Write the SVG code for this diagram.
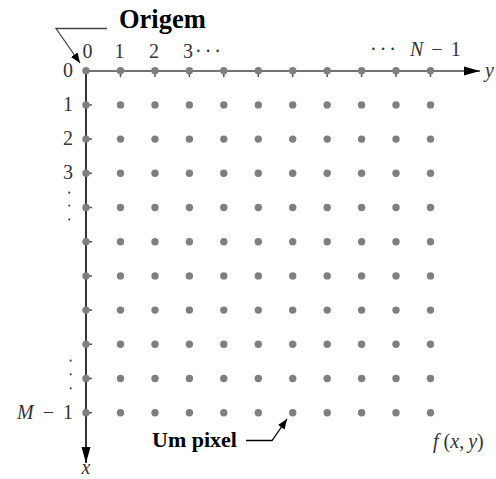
<svg xmlns="http://www.w3.org/2000/svg" width="496" height="479" viewBox="0 0 496 479">
<defs>
<style>
.lbl{font-family:"Liberation Serif",serif;font-size:20px;fill:#333}
.it{font-style:italic}
.bold{font-family:"Liberation Serif",serif;font-weight:bold;fill:#000}
.dot{fill:#7f7f7f}
.tick{stroke:#555;stroke-width:1.5}
.ell{fill:#444}
</style>
<marker id="ah" viewBox="0 0 10 10" refX="10" refY="5" markerWidth="10" markerHeight="10" markerUnits="userSpaceOnUse" orient="auto"><path d="M0,1 L10,5 L0,9 Z" fill="#000"/></marker>
<marker id="big" viewBox="0 0 16 10" refX="16" refY="5" markerWidth="16" markerHeight="10" markerUnits="userSpaceOnUse" orient="auto"><path d="M0,0.5 L16,5 L0,9.5 Z" fill="#000"/></marker>
</defs>
<rect width="496" height="479" fill="#fff"/>
<g id="connectors" fill="none">
<line x1="86" y1="71" x2="480" y2="71" stroke="#444" stroke-width="1.6" marker-end="url(#big)"/>
<line x1="86" y1="71" x2="86" y2="463" stroke="#000" stroke-width="1.6" marker-end="url(#big)"/>
<polyline points="107,28.5 56,28.5 80,63" stroke="#444" stroke-width="1.3" marker-end="url(#ah)"/>
<polyline points="246,440.5 272,440.5 287,419" stroke="#000" stroke-width="1.3" marker-end="url(#ah)"/>
</g>
<g id="ticks">
<path class="tick" d="M120.5,71v6M155,71v6M189.4,71v6M223.8,71v6M258.3,71v6M292.7,71v6M327.2,71v6M361.6,71v6M396,71v6M430.5,71v6"/>
<path class="tick" d="M86,104.9h6M86,139.1h6M86,173.3h6M86,207.5h6M86,241.7h6M86,275.9h6M86,310.1h6M86,344.3h6M86,378.5h6M86,412.7h6"/>
</g>
<g id="grid">
<g id="row0"><circle class="dot" cx="86" cy="70.7" r="3.7"/><circle class="dot" cx="120.5" cy="70.7" r="3.7"/><circle class="dot" cx="155" cy="70.7" r="3.7"/><circle class="dot" cx="189.4" cy="70.7" r="3.7"/><circle class="dot" cx="223.8" cy="70.7" r="3.7"/><circle class="dot" cx="258.3" cy="70.7" r="3.7"/><circle class="dot" cx="292.7" cy="70.7" r="3.7"/><circle class="dot" cx="327.2" cy="70.7" r="3.7"/><circle class="dot" cx="361.6" cy="70.7" r="3.7"/><circle class="dot" cx="396" cy="70.7" r="3.7"/><circle class="dot" cx="430.5" cy="70.7" r="3.7"/></g>
<g id="row1"><circle class="dot" cx="86" cy="104.9" r="3.7"/><circle class="dot" cx="120.5" cy="104.9" r="3.7"/><circle class="dot" cx="155" cy="104.9" r="3.7"/><circle class="dot" cx="189.4" cy="104.9" r="3.7"/><circle class="dot" cx="223.8" cy="104.9" r="3.7"/><circle class="dot" cx="258.3" cy="104.9" r="3.7"/><circle class="dot" cx="292.7" cy="104.9" r="3.7"/><circle class="dot" cx="327.2" cy="104.9" r="3.7"/><circle class="dot" cx="361.6" cy="104.9" r="3.7"/><circle class="dot" cx="396" cy="104.9" r="3.7"/><circle class="dot" cx="430.5" cy="104.9" r="3.7"/></g>
<g id="row2"><circle class="dot" cx="86" cy="139.1" r="3.7"/><circle class="dot" cx="120.5" cy="139.1" r="3.7"/><circle class="dot" cx="155" cy="139.1" r="3.7"/><circle class="dot" cx="189.4" cy="139.1" r="3.7"/><circle class="dot" cx="223.8" cy="139.1" r="3.7"/><circle class="dot" cx="258.3" cy="139.1" r="3.7"/><circle class="dot" cx="292.7" cy="139.1" r="3.7"/><circle class="dot" cx="327.2" cy="139.1" r="3.7"/><circle class="dot" cx="361.6" cy="139.1" r="3.7"/><circle class="dot" cx="396" cy="139.1" r="3.7"/><circle class="dot" cx="430.5" cy="139.1" r="3.7"/></g>
<g id="row3"><circle class="dot" cx="86" cy="173.3" r="3.7"/><circle class="dot" cx="120.5" cy="173.3" r="3.7"/><circle class="dot" cx="155" cy="173.3" r="3.7"/><circle class="dot" cx="189.4" cy="173.3" r="3.7"/><circle class="dot" cx="223.8" cy="173.3" r="3.7"/><circle class="dot" cx="258.3" cy="173.3" r="3.7"/><circle class="dot" cx="292.7" cy="173.3" r="3.7"/><circle class="dot" cx="327.2" cy="173.3" r="3.7"/><circle class="dot" cx="361.6" cy="173.3" r="3.7"/><circle class="dot" cx="396" cy="173.3" r="3.7"/><circle class="dot" cx="430.5" cy="173.3" r="3.7"/></g>
<g id="row4"><circle class="dot" cx="86" cy="207.5" r="3.7"/><circle class="dot" cx="120.5" cy="207.5" r="3.7"/><circle class="dot" cx="155" cy="207.5" r="3.7"/><circle class="dot" cx="189.4" cy="207.5" r="3.7"/><circle class="dot" cx="223.8" cy="207.5" r="3.7"/><circle class="dot" cx="258.3" cy="207.5" r="3.7"/><circle class="dot" cx="292.7" cy="207.5" r="3.7"/><circle class="dot" cx="327.2" cy="207.5" r="3.7"/><circle class="dot" cx="361.6" cy="207.5" r="3.7"/><circle class="dot" cx="396" cy="207.5" r="3.7"/><circle class="dot" cx="430.5" cy="207.5" r="3.7"/></g>
<g id="row5"><circle class="dot" cx="86" cy="241.7" r="3.7"/><circle class="dot" cx="120.5" cy="241.7" r="3.7"/><circle class="dot" cx="155" cy="241.7" r="3.7"/><circle class="dot" cx="189.4" cy="241.7" r="3.7"/><circle class="dot" cx="223.8" cy="241.7" r="3.7"/><circle class="dot" cx="258.3" cy="241.7" r="3.7"/><circle class="dot" cx="292.7" cy="241.7" r="3.7"/><circle class="dot" cx="327.2" cy="241.7" r="3.7"/><circle class="dot" cx="361.6" cy="241.7" r="3.7"/><circle class="dot" cx="396" cy="241.7" r="3.7"/><circle class="dot" cx="430.5" cy="241.7" r="3.7"/></g>
<g id="row6"><circle class="dot" cx="86" cy="275.9" r="3.7"/><circle class="dot" cx="120.5" cy="275.9" r="3.7"/><circle class="dot" cx="155" cy="275.9" r="3.7"/><circle class="dot" cx="189.4" cy="275.9" r="3.7"/><circle class="dot" cx="223.8" cy="275.9" r="3.7"/><circle class="dot" cx="258.3" cy="275.9" r="3.7"/><circle class="dot" cx="292.7" cy="275.9" r="3.7"/><circle class="dot" cx="327.2" cy="275.9" r="3.7"/><circle class="dot" cx="361.6" cy="275.9" r="3.7"/><circle class="dot" cx="396" cy="275.9" r="3.7"/><circle class="dot" cx="430.5" cy="275.9" r="3.7"/></g>
<g id="row7"><circle class="dot" cx="86" cy="310.1" r="3.7"/><circle class="dot" cx="120.5" cy="310.1" r="3.7"/><circle class="dot" cx="155" cy="310.1" r="3.7"/><circle class="dot" cx="189.4" cy="310.1" r="3.7"/><circle class="dot" cx="223.8" cy="310.1" r="3.7"/><circle class="dot" cx="258.3" cy="310.1" r="3.7"/><circle class="dot" cx="292.7" cy="310.1" r="3.7"/><circle class="dot" cx="327.2" cy="310.1" r="3.7"/><circle class="dot" cx="361.6" cy="310.1" r="3.7"/><circle class="dot" cx="396" cy="310.1" r="3.7"/><circle class="dot" cx="430.5" cy="310.1" r="3.7"/></g>
<g id="row8"><circle class="dot" cx="86" cy="344.3" r="3.7"/><circle class="dot" cx="120.5" cy="344.3" r="3.7"/><circle class="dot" cx="155" cy="344.3" r="3.7"/><circle class="dot" cx="189.4" cy="344.3" r="3.7"/><circle class="dot" cx="223.8" cy="344.3" r="3.7"/><circle class="dot" cx="258.3" cy="344.3" r="3.7"/><circle class="dot" cx="292.7" cy="344.3" r="3.7"/><circle class="dot" cx="327.2" cy="344.3" r="3.7"/><circle class="dot" cx="361.6" cy="344.3" r="3.7"/><circle class="dot" cx="396" cy="344.3" r="3.7"/><circle class="dot" cx="430.5" cy="344.3" r="3.7"/></g>
<g id="row9"><circle class="dot" cx="86" cy="378.5" r="3.7"/><circle class="dot" cx="120.5" cy="378.5" r="3.7"/><circle class="dot" cx="155" cy="378.5" r="3.7"/><circle class="dot" cx="189.4" cy="378.5" r="3.7"/><circle class="dot" cx="223.8" cy="378.5" r="3.7"/><circle class="dot" cx="258.3" cy="378.5" r="3.7"/><circle class="dot" cx="292.7" cy="378.5" r="3.7"/><circle class="dot" cx="327.2" cy="378.5" r="3.7"/><circle class="dot" cx="361.6" cy="378.5" r="3.7"/><circle class="dot" cx="396" cy="378.5" r="3.7"/><circle class="dot" cx="430.5" cy="378.5" r="3.7"/></g>
<g id="row10"><circle class="dot" cx="86" cy="412.7" r="3.7"/><circle class="dot" cx="120.5" cy="412.7" r="3.7"/><circle class="dot" cx="155" cy="412.7" r="3.7"/><circle class="dot" cx="189.4" cy="412.7" r="3.7"/><circle class="dot" cx="223.8" cy="412.7" r="3.7"/><circle class="dot" cx="258.3" cy="412.7" r="3.7"/><circle class="dot" cx="292.7" cy="412.7" r="3.7"/><circle class="dot" cx="327.2" cy="412.7" r="3.7"/><circle class="dot" cx="361.6" cy="412.7" r="3.7"/><circle class="dot" cx="396" cy="412.7" r="3.7"/><circle class="dot" cx="430.5" cy="412.7" r="3.7"/></g>
</g>
<g id="col-labels">
<text class="lbl" x="87.5" y="58" text-anchor="middle">0</text>
<text class="lbl" x="119.5" y="58" text-anchor="middle">1</text>
<text class="lbl" x="154" y="58" text-anchor="middle">2</text>
<text class="lbl" x="183" y="58">3</text>
<text class="lbl" x="195" y="58" letter-spacing="3">···</text>
<text class="lbl" x="370" y="56" letter-spacing="3">···</text>
<text class="lbl" x="410" y="56"><tspan class="it">N</tspan><tspan dx="8">−</tspan><tspan dx="8">1</tspan></text>
<text class="lbl it" x="485" y="77">y</text>
</g>
<g id="row-labels">
<text class="lbl" x="73" y="77" text-anchor="end">0</text>
<text class="lbl" x="73" y="111" text-anchor="end">1</text>
<text class="lbl" x="73" y="145" text-anchor="end">2</text>
<text class="lbl" x="73" y="179" text-anchor="end">3</text>
<circle class="ell" cx="69.3" cy="192.7" r="1.1"/><circle class="ell" cx="69.3" cy="205.5" r="1.1"/><circle class="ell" cx="69.3" cy="219.5" r="1.1"/>
<circle class="ell" cx="70.7" cy="360.7" r="1.1"/><circle class="ell" cx="70.7" cy="374.3" r="1.1"/><circle class="ell" cx="70.7" cy="388.3" r="1.1"/>
<text class="lbl" x="73" y="419" text-anchor="end" font-size="21"><tspan class="it">M</tspan><tspan dx="9">−</tspan><tspan dx="9">1</tspan></text>
<text class="lbl it" x="86" y="474" text-anchor="middle">x</text>
</g>
<g id="origem"><text class="bold" x="119" y="28" font-size="26.5">Origem</text></g>
<g id="um-pixel"><text class="bold" x="152" y="447" font-size="22">Um pixel</text></g>
<g id="fxy"><text class="lbl it" x="433" y="448" font-size="21">f<tspan dx="5" font-style="normal">(</tspan>x<tspan font-style="normal">,</tspan><tspan dx="4">y</tspan><tspan font-style="normal">)</tspan></text></g>
</svg>
